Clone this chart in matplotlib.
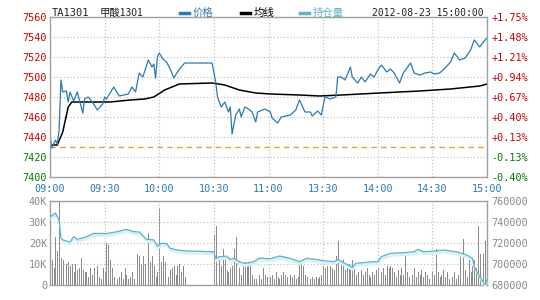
import numpy as np
import matplotlib.pyplot as plt
from matplotlib.lines import Line2D

plt.rcParams['font.family'] = ['DejaVu Sans Mono', 'Noto Sans CJK SC']

# minutes since 09:00 (10:15-10:30 break kept as flat, 11:30 joined to 13:30)
price_min = [0, 1, 3, 4, 5, 6, 7, 9, 10, 11, 13, 15, 18, 19, 21, 24, 26, 29, 30, 31,
             35, 36, 38, 43, 45, 47, 49, 51, 54, 56, 57, 58, 59, 60, 62, 64, 66, 68, 70, 72,
             74, 89, 91, 92, 94, 96, 98, 99, 100, 102, 104, 105, 107, 109, 111, 113, 114, 118, 121, 122,
             125, 127, 132, 135, 137, 140, 143, 144, 147, 149, 151, 154, 157, 158, 160, 162, 165, 166, 169, 171,
             173, 176, 178, 180, 182, 185, 187, 189, 192, 194, 196, 198, 200, 203, 206, 209, 211, 214, 217, 220,
             222, 225, 228, 231, 233, 236, 238, 240]
price = [7442, 7429, 7437, 7433, 7447, 7497, 7485, 7486, 7475, 7485, 7476, 7485, 7464, 7478, 7480, 7473, 7467, 7473, 7480, 7478,
         7490, 7487, 7481, 7483, 7490, 7485, 7504, 7500, 7517, 7510, 7513, 7499, 7520, 7524, 7518, 7515, 7508, 7499, 7505, 7510,
         7514, 7514, 7495, 7480, 7470, 7475, 7465, 7470, 7443, 7462, 7468, 7460, 7470, 7468, 7465, 7455, 7465, 7468, 7465, 7459,
         7454, 7460, 7462, 7467, 7477, 7465, 7465, 7461, 7466, 7462, 7480, 7478, 7480, 7500, 7500, 7497, 7510, 7500, 7494, 7500,
         7495, 7503, 7500, 7507, 7512, 7505, 7508, 7504, 7494, 7504, 7509, 7514, 7504, 7502, 7504, 7505, 7503, 7504, 7509, 7515,
         7524, 7517, 7519, 7527, 7537, 7530, 7535, 7539]

avg_min = [0, 4, 7, 10, 12, 33, 44, 52, 57, 63, 71, 89, 96, 104, 113, 121, 137, 148, 160, 181, 203, 220, 236, 240]
avg = [7432, 7432, 7445, 7470, 7475, 7475, 7477, 7478, 7480, 7487, 7493, 7494, 7492, 7487, 7484, 7483, 7482, 7481, 7482,
       7484, 7486, 7488, 7491, 7493]

prev_close = 7430

# volume per minute, in K
volume = [26, 12, 8, 23, 16, 40, 13, 12, 12, 10, 11, 9, 10, 6, 10, 7, 8, 13, 7, 6, 6, 4, 8, 5, 8, 5, 9, 4, 3, 8,
          6, 20, 19, 12, 8, 4, 6, 3, 4, 6, 3, 8, 5, 3, 4, 6, 3, 6, 15, 14, 10, 14, 10, 16, 25, 11, 14, 9, 4, 6,
          36, 11, 14, 11, 18, 4, 7, 8, 9, 5, 9, 10, 6, 9, 4, 5,
          0, 0, 0, 0, 0, 0, 0, 0, 0, 0, 0, 0, 0, 0,
          24, 28, 11, 12, 9, 17, 12, 7, 6, 8, 9, 17, 23, 10, 8, 5, 9, 11, 9, 11, 10, 5, 3, 3, 4, 5, 3, 8, 5, 4,
          5, 4, 5, 3, 6, 4, 3, 5, 6, 5, 4, 6, 5, 4, 5, 3, 4, 11, 10, 9, 5, 4, 5, 3, 4, 3, 4, 3, 4, 5,
          9, 8, 9, 7, 9, 8, 7, 14, 21, 9, 10, 12, 7, 9, 10, 7, 12, 8, 5, 6, 4, 7, 5, 6, 8, 5, 4, 6, 5, 7,
          8, 17, 6, 8, 5, 9, 8, 9, 8, 6, 4, 7, 5, 8, 5, 14, 6, 4, 7, 5, 8, 4, 6, 5, 7, 4, 6, 5, 3, 5,
          6, 5, 17, 6, 4, 5, 7, 4, 6, 3, 5, 4, 6, 3, 5, 14, 8, 22, 7, 4, 12, 6, 9, 12, 8, 28, 15, 9, 15, 21]

oi_min = [0, 3, 5, 6, 7, 11, 13, 15, 20, 24, 31, 37, 42, 46, 49, 53, 57, 59, 61, 64, 66, 70, 75, 90, 91, 93, 97, 99,
          101, 104, 107, 112, 115, 121, 126, 132, 137, 141, 146, 150, 156, 158, 166, 168, 176, 180, 182, 187, 194,
          200, 202, 205, 212, 216, 223, 229, 232, 233, 236, 239, 240]
oi = [744800, 748600, 741900, 724800, 722900, 721000, 726000, 723500, 726000, 729200, 729000, 730800, 733000,
      730800, 730500, 723500, 723000, 717000, 719700, 719500, 715000, 713300, 712400, 711700, 705400, 707000,
      707500, 704400, 705400, 702200, 700600, 702200, 705700, 705000, 707600, 705400, 702200, 705400, 704400,
      703200, 702200, 704400, 696800, 700600, 702000, 702200, 707000, 710200, 710800, 711700, 714000, 711700,
      712400, 713300, 711700, 708600, 705400, 697500, 688000, 680000, 684800]

time_ticks = [0, 30, 60, 90, 120, 150, 180, 210, 240]
time_labels = ['09:00', '09:30', '10:00', '10:30', '11:00', '13:30', '14:00', '14:30', '15:00']
price_ticks = [7400, 7420, 7440, 7460, 7480, 7500, 7520, 7540, 7560]
vol_ticks = [0, 10, 20, 30, 40]
vol_labels = ['0', '10K', '20K', '30K', '40K']
oi_ticks = [680000, 700000, 720000, 740000, 760000]

c_price = '#2a7ab4'
c_oi = '#5eb2c8'
c_red = '#cc0000'
c_green = '#007a00'
c_frame = '#a0a0a0'

fig = plt.figure(figsize=(5.4, 3.0), dpi=100)
ax = fig.add_axes([50 / 540, 1 - 177 / 300, 437 / 540, 160 / 300])
axv = fig.add_axes([50 / 540, 1 - 285 / 300, 437 / 540, 84 / 300])

for a in (ax, axv):
    a.set_xlim(0, 240)
    a.set_xticks(time_ticks)
    a.grid(True, color='#b8b8b8', linestyle=(0, (1, 2)), linewidth=0.8)
    a.tick_params(length=0, labelsize=7.3, pad=2)
    for s in a.spines.values():
        s.set_color(c_frame)
        s.set_linewidth(1.0)

# price panel
ax.set_ylim(7400, 7560)
ax.set_yticks(price_ticks)
ax.set_yticklabels([str(v) for v in price_ticks])
for lab, v in zip(ax.get_yticklabels(), price_ticks):
    lab.set_color(c_red if v > prev_close else c_green)
ax.set_xticklabels(time_labels, color=c_price)
ax.tick_params(axis='x', pad=5)
ax.axhline(prev_close, color='#e8a030', linestyle=(0, (4, 3)), linewidth=1.0)
ax.plot(avg_min, avg, color='black', linewidth=1.1)
ax.plot(price_min, price, color=c_price, linewidth=0.9)

axr = ax.twinx()
axr.set_ylim(7400, 7560)
axr.set_yticks(price_ticks)
pct = [(v - prev_close) / prev_close * 100 for v in price_ticks]
axr.set_yticklabels([f'{p:+.2f}%' for p in pct])
for lab, v in zip(axr.get_yticklabels(), price_ticks):
    lab.set_color(c_red if v > prev_close else c_green)
axr.tick_params(length=0, labelsize=7.3, pad=3)
for s in axr.spines.values():
    s.set_visible(False)

# volume / open interest panel
axv.set_ylim(0, 40)
axv.set_yticks(vol_ticks)
axv.set_yticklabels(vol_labels, color='#8a8a8a')
axv.set_xticklabels([])
axv.bar(np.arange(len(volume)), volume, width=0.5, color='#8c8c8c', align='edge')

axo = axv.twinx()
axo.set_ylim(680000, 760000)
axo.set_yticks(oi_ticks)
axo.set_yticklabels([str(v) for v in oi_ticks], color='#8a8a8a')
axo.tick_params(length=0, labelsize=7.3, pad=3)
for s in axo.spines.values():
    s.set_visible(False)
oi_arr = np.array(oi)
axo.fill_between(oi_min, oi_arr - 3000, oi_arr, color='#d8f0f7', linewidth=0)
axo.plot(oi_min, oi, color=c_oi, linewidth=0.9)

# header
fig.text(52 / 540, 0.958, 'TA1301', fontsize=7.5, color='#222222', va='center')
fig.text(100 / 540, 0.958, '甲酸1301', fontsize=7.5, color='#222222', va='center',
         family=['Noto Sans CJK SC', 'DejaVu Sans Mono'])
legend = [('价格', c_price, 180), ('均线', 'black', 241), ('持仓量', c_oi, 300)]
for name, col, x0 in legend:
    fig.add_artist(Line2D([x0 / 540, (x0 + 9) / 540], [0.958, 0.958], color=col, linewidth=2.5))
    fig.text((x0 + 13) / 540, 0.958, name, fontsize=7.5, color=col, va='center',
             family=['Noto Sans CJK SC', 'DejaVu Sans Mono'])
fig.text(372 / 540, 0.958, '2012-08-23 15:00:00', fontsize=7, color='#222222', va='center')

fig.savefig('out.png', dpi=100)
